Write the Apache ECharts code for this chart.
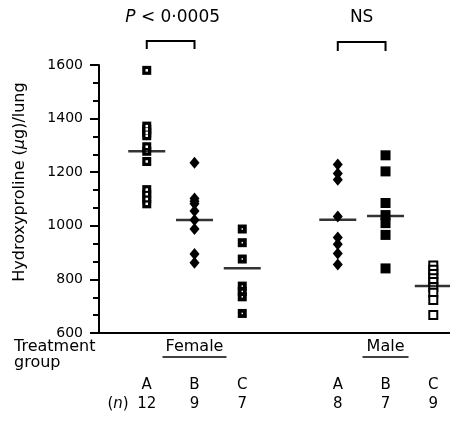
<!DOCTYPE html>
<html>
<head>
<meta charset="utf-8">
<script src="https://cdn.jsdelivr.net/npm/echarts@6/dist/echarts.min.js"></script>
<style>
html, body { margin: 0; padding: 0; background: #fff; }
#chart { width: 450px; height: 423px; }
</style>
</head>
<body>
<div id="chart"></div>
<script>
// x positions of the six groups (a gap between female and male)
var groupPos = [1, 2, 3, 5, 6, 7];
var groupLetters = ["A", "B", "C", "A", "B", "C"];
var groupN = ["12", "9", "7", "8", "7", "9"];
var sexLabels = ["Female", "Male"];
var yTicks = [600, 800, 1000, 1200, 1400, 1600];

// hydroxyproline per lung
var femaleA = [1580, 1372, 1360, 1347, 1336, 1295, 1278, 1240, 1135, 1118, 1100, 1082];
var femaleB = [1235, 1102, 1092, 1082, 1055, 1022, 988, 895, 862];
var femaleC = [988, 937, 876, 775, 755, 735, 673];
var maleA = [1229, 1195, 1172, 1035, 956, 931, 897, 856];
var maleB = [1263, 1203, 1085, 1040, 1010, 966, 841];
var maleC = [852, 836, 820, 804, 790, 772, 750, 723, 667];
var groupMeans = [1278, 1022, 842, 1023, 1037, 775];

var FONT = "DejaVu Sans";

function pts(i, vals) {
  return vals.map(function (v) { return [groupPos[i], v]; });
}

var chart = echarts.init(document.getElementById("chart"));

var dot = function (name, data, symbol, size, color, border) {
  return {
    name: name,
    type: "scatter",
    data: data,
    symbol: symbol,
    symbolSize: size,
    silent: true,
    itemStyle: {
      color: color,
      borderColor: "#000",
      borderWidth: border || 0,
      opacity: 1
    },
    z: 3
  };
};

chart.setOption({
  animation: false,
  backgroundColor: "#fff",
  grid: { left: 99, right: 0, top: 65, bottom: 90 },
  xAxis: {
    type: "value",
    min: 0,
    max: 7.35,
    axisLine: { show: true, lineStyle: { color: "#000", width: 2 } },
    axisTick: { show: false },
    axisLabel: { show: false },
    splitLine: { show: false }
  },
  yAxis: {
    type: "value",
    min: 600,
    max: 1600,
    interval: 200,
    axisLine: { show: true, lineStyle: { color: "#000", width: 2 } },
    axisTick: { show: true, length: 9, lineStyle: { color: "#000", width: 2 } },
    minorTick: { show: true, splitNumber: 3, length: 6, lineStyle: { color: "#000", width: 2 } },
    axisLabel: {
      color: "#000",
      fontFamily: FONT,
      fontSize: 14,
      margin: 16,
      formatter: function (v) { return yTicks.indexOf(v) >= 0 ? String(v) : ""; }
    },
    splitLine: { show: false }
  },
  series: [
    // female A: black squares with a small white centre
    dot("Female A", pts(0, femaleA), "rect", 9, "#000"),
    dot("Female A centre", pts(0, femaleA), "rect", 2.5, "#fff"),
    // female B: diamonds
    dot("Female B", pts(1, femaleB), "diamond", [10, 12], "#000"),
    // female C: black squares with a white speck
    dot("Female C", pts(2, femaleC), "rect", 9, "#000"),
    dot("Female C centre", pts(2, femaleC), "rect", 1.5, "#fff"),
    // male A: diamonds
    dot("Male A", pts(3, maleA), "diamond", [10, 12], "#000"),
    // male B: solid squares
    dot("Male B", pts(4, maleB), "rect", 10, "#000"),
    // male C: open squares
    dot("Male C", pts(5, maleC), "rect", 8, "#fff", 2),
    // group means
    {
      name: "Mean",
      type: "scatter",
      silent: true,
      symbol: "rect",
      symbolSize: [37, 2.5],
      itemStyle: { color: "#000" },
      data: groupMeans.map(function (m, i) { return [groupPos[i], m]; }),
      z: 4
    }
  ]
});

// annotations placed from the axis scale
function px(x, y) {
  return chart.convertToPixel({ xAxisIndex: 0, yAxisIndex: 0 }, [x, y]);
}

var txt = function (x, y, text, align, size) {
  return {
    type: "text",
    silent: true,
    style: {
      x: x, y: y, text: text,
      fill: "#000",
      font: (size || 16) + "px '" + FONT + "'",
      align: align || "center",
      verticalAlign: "middle"
    }
  };
};

var bracket = function (x1, x2, top, bottom) {
  return {
    type: "polyline",
    silent: true,
    shape: { points: [[x1, bottom], [x1, top], [x2, top], [x2, bottom]] },
    style: { stroke: "#000", lineWidth: 2, fill: null }
  };
};

var g = [];
var fA = px(groupPos[0], 600)[0], fB = px(groupPos[1], 600)[0];
var mA = px(groupPos[3], 600)[0], mB = px(groupPos[4], 600)[0];

// y axis title
g.push({
  type: "text",
  silent: true,
  x: 20,
  y: 182,
  rotation: Math.PI / 2,
  style: {
    x: 0, y: 0,
    align: "center", verticalAlign: "middle",
    rich: {
      a: { font: "16px '" + FONT + "'", fill: "#000" },
      i: { font: "italic 16px '" + FONT + "'", fill: "#000" }
    },
    text: "{a|Hydroxyproline (}{i|μ}{a|g)/lung}"
  }
});

g.push({
  type: "text",
  silent: true,
  style: {
    x: (fA + fB) / 2 + 2, y: 18,
    align: "center", verticalAlign: "middle",
    rich: {
      i: { font: "italic 17px '" + FONT + "'", fill: "#000" },
      a: { font: "17px '" + FONT + "'", fill: "#000" }
    },
    text: "{i|P}{a| < 0·0005}"
  }
});
g.push(bracket(fA, fB, 41, 49));
g.push(txt((mA + mB) / 2, 18, "NS", "center", 17));
g.push(bracket(mA, mB, 42, 51));

g.push(txt(14, 347, "Treatment", "left"));
g.push(txt(14, 363, "group", "left"));

[1, 4].forEach(function (idx, s) {
  var cx = px(groupPos[idx], 600)[0];
  g.push(txt(cx, 347, sexLabels[s], "center"));
  var w = s === 0 ? 64 : 46;
  g.push({
    type: "line",
    silent: true,
    shape: { x1: cx - w / 2, y1: 357, x2: cx + w / 2, y2: 357 },
    style: { stroke: "#000", lineWidth: 1.5 }
  });
});

groupPos.forEach(function (p, i) {
  var cx = px(p, 600)[0];
  g.push(txt(cx, 385, groupLetters[i], "center", 15));
  g.push(txt(cx, 404, groupN[i], "center", 15));
});

g.push({
  type: "text",
  silent: true,
  style: {
    x: 118, y: 404, align: "center", verticalAlign: "middle",
    rich: {
      a: { font: "15px '" + FONT + "'", fill: "#000" },
      i: { font: "italic 15px '" + FONT + "'", fill: "#000" }
    },
    text: "{a|(}{i|n}{a|)}"
  }
});

chart.setOption({ graphic: g });
</script>
</body>
</html>
